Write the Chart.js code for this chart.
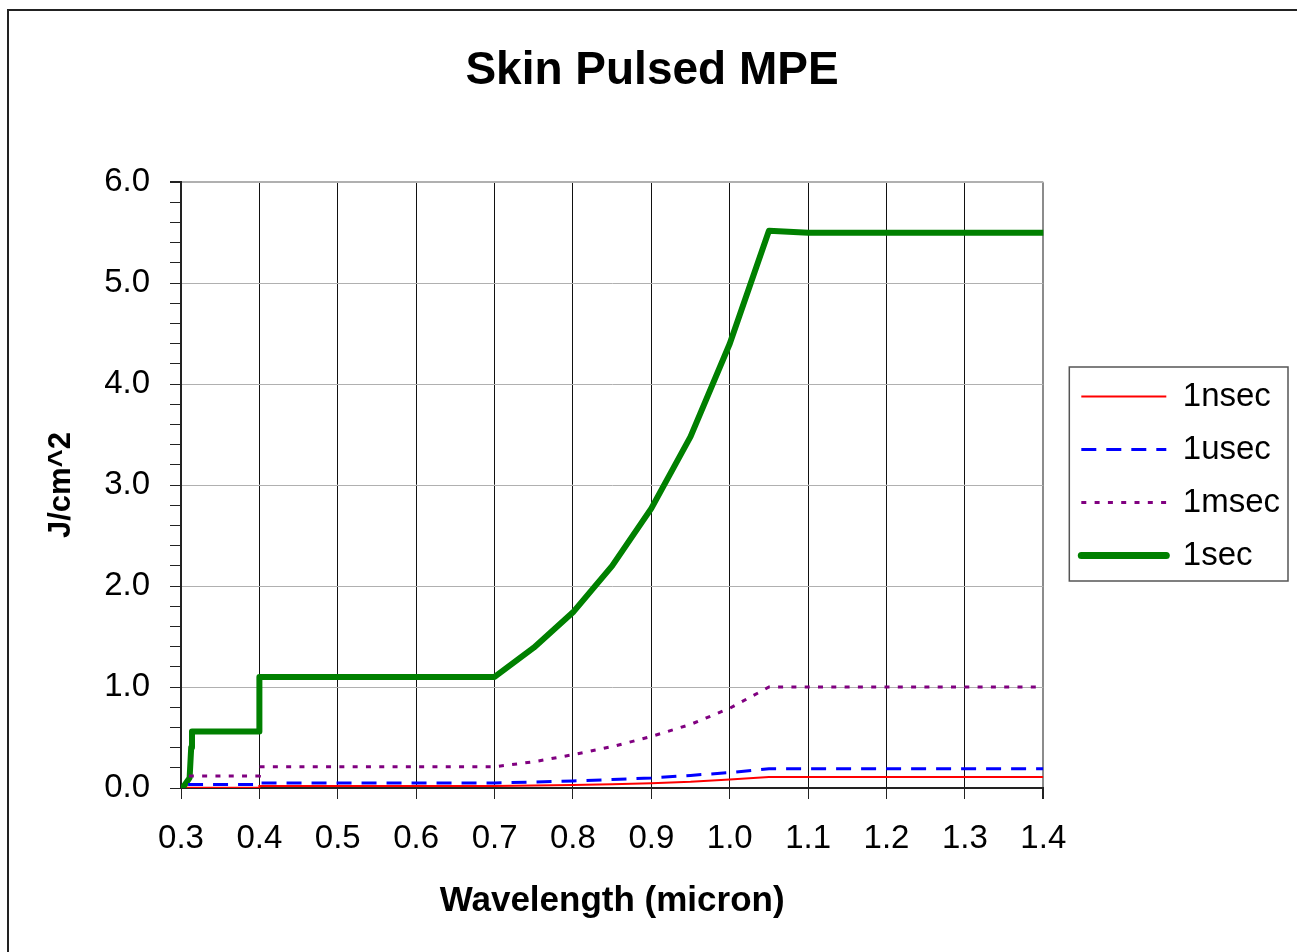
<!DOCTYPE html>
<html><head><meta charset="utf-8">
<script src="https://cdn.jsdelivr.net/npm/chart.js@4/dist/chart.umd.min.js"></script>
<style>html,body{margin:0;padding:0;background:#fff;overflow:hidden}#wrap{position:relative;width:1297px;height:952px}</style>
</head><body><div id="wrap"><canvas id="c" width="1297" height="952"></canvas></div>
<script>
// ---- data ----
const seriesNames = ['1nsec', '1usec', '1msec', '1sec'];
const xTickMin = 0.3, xTickMax = 1.4, xStep = 0.1;
const yTickMin = 0, yTickMax = 6, yMajorStep = 1, yMinorStep = 0.2;

const wl_1nsec  = [0.307, 0.4, 0.4, 0.7, 0.75, 0.8, 0.85, 0.9, 0.95, 1.0, 1.05, 1.1, 1.2, 1.3, 1.4];
const val_1nsec = [0.003, 0.003, 0.02, 0.02, 0.025, 0.03, 0.038, 0.048, 0.062, 0.085, 0.11, 0.11, 0.11, 0.11, 0.11];

const wl_1usec  = [0.309, 0.4, 0.4, 0.7, 0.75, 0.8, 0.85, 0.9, 0.95, 1.0, 1.05, 1.1, 1.2, 1.3, 1.4];
const val_1usec = [0.035, 0.035, 0.05, 0.05, 0.059, 0.07, 0.084, 0.1, 0.125, 0.153, 0.19, 0.19, 0.19, 0.19, 0.19];

const wl_1msec  = [0.31, 0.4, 0.4, 0.7, 0.75, 0.8, 0.85, 0.9, 0.95, 1.0, 1.05, 1.1, 1.2, 1.3, 1.4];
const val_1msec = [0.12, 0.12, 0.21, 0.21, 0.26, 0.33, 0.41, 0.51, 0.63, 0.79, 1.0, 1.0, 1.0, 1.0, 1.0];

const wl_1sec   = [0.302, 0.311, 0.313, 0.314, 0.4, 0.4, 0.7, 0.75, 0.8, 0.85, 0.9, 0.95, 1.0, 1.05, 1.1, 1.2, 1.3, 1.4];
const val_1sec  = [0, 0.1, 0.4, 0.56, 0.56, 1.1, 1.1, 1.39, 1.74, 2.2, 2.77, 3.48, 4.4, 5.52, 5.5, 5.5, 5.5, 5.5];

// ---- helpers ----
const zip = (xs, ys) => xs.map((x, i) => ({x: x, y: ys[i]}));
const isMajor = v => Math.abs(v / yMajorStep - Math.round(v / yMajorStep)) < 1e-6;
const FONT = '"Liberation Sans", Arial, Helvetica, sans-serif';
Chart.defaults.color = '#000';
Chart.defaults.font.family = FONT;

const PAD_R = 7;
const PAD_L = PAD_R + 7;

const framePlugin = {
  id: 'frames',
  beforeDraw(chart) {
    const ctx = chart.ctx;
    ctx.save();
    ctx.fillStyle = '#fff';
    ctx.fillRect(0, 0, chart.width, chart.height);
    ctx.strokeStyle = '#222';
    ctx.lineWidth = 2;
    ctx.strokeRect(8, 10, chart.width + 20, chart.height + 20);
    ctx.restore();
  },
  afterDraw(chart) {
    const lg = chart.legend;
    if (!lg || !lg.legendHitBoxes || !lg.legendHitBoxes.length) return;
    const hb = lg.legendHitBoxes;
    let l = Infinity, r = -Infinity, t = Infinity, b = -Infinity;
    hb.forEach(h => { l = Math.min(l, h.left); r = Math.max(r, h.left + h.width); t = Math.min(t, h.top); b = Math.max(b, h.top + h.height); });
    const ctx = chart.ctx;
    ctx.save();
    ctx.strokeStyle = '#555';
    ctx.lineWidth = 1.5;
    ctx.strokeRect(l - 12, t - 13, (r - l) + 20, (b - t) + 22);
    ctx.restore();
  }
};

new Chart(document.getElementById('c'), {
  type: 'line',
  data: {
    datasets: [
      { label: seriesNames[0], data: zip(wl_1nsec, val_1nsec), borderColor: '#FF0000', borderWidth: 2 },
      { label: seriesNames[1], data: zip(wl_1usec, val_1usec), borderColor: '#0000FF', borderWidth: 3, borderDash: [15, 10] },
      { label: seriesNames[2], data: zip(wl_1msec, val_1msec), borderColor: '#800080', borderWidth: 3, borderDash: [5, 8.3] },
      { label: seriesNames[3], data: zip(wl_1sec, val_1sec), borderColor: '#008000', borderWidth: 6, borderCapStyle: 'round', borderJoinStyle: 'round' }
    ]
  },
  options: {
    responsive: false,
    animation: false,
    devicePixelRatio: 1,
    elements: { point: { radius: 0, hoverRadius: 0 }, line: { tension: 0, fill: false } },
    layout: { padding: { left: PAD_L, right: PAD_R, top: 0, bottom: 0 } },
    plugins: {
      tooltip: { enabled: false },
      title: {
        display: true, text: 'Skin Pulsed MPE', color: '#000',
        font: { family: FONT, size: 46, weight: 'bold' },
        padding: { top: 44, bottom: 83 }
      },
      legend: {
        display: true, position: 'right', align: 'center', maxWidth: 320,
        labels: {
          usePointStyle: true, pointStyle: 'line', pointStyleWidth: 85,
          font: { family: FONT, size: 33 }, color: '#000', padding: 20,
          generateLabels: chart => chart.data.datasets.map((ds, i) => ({
            text: ds.label,
            fillStyle: ds.borderColor,
            strokeStyle: ds.borderColor,
            fontColor: '#000',
            lineWidth: ds.borderWidth === 6 ? 7 : ds.borderWidth,
            lineDash: ds.borderDash || [],
            lineCap: ds.borderCapStyle || 'butt',
            pointStyle: 'line',
            hidden: !chart.isDatasetVisible(i),
            datasetIndex: i
          }))
        }
      }
    },
    scales: {
      x: {
        type: 'linear', position: 'bottom', min: xTickMin, max: xTickMax,
        afterFit(s) { s.height = 164; },
        border: { display: true, color: '#222', width: 2 },
        grid: {
          color: c => (c.tick && Math.abs(c.tick.value - xTickMax) < 1e-6) ? '#8c8c8c' : '#111',
          lineWidth: c => (c.tick && Math.abs(c.tick.value - xTickMax) < 1e-6) ? 2 : 1,
          tickColor: '#222', tickLength: 11, drawTicks: true
        },
        ticks: {
          stepSize: xStep, autoSkip: false, padding: 20, color: '#000',
          font: { family: FONT, size: 33 },
          callback: v => Number(v).toFixed(1)
        },
        title: {
          display: true, text: 'Wavelength (micron)', color: '#000',
          font: { family: FONT, size: 35, weight: 'bold' },
          padding: { top: 0, bottom: 30 }
        }
      },
      y: {
        type: 'linear', position: 'left', min: yTickMin, max: yTickMax,
        afterFit(s) { s.width = 181 - PAD_L; },
        border: { display: true, color: '#222', width: 2 },
        grid: {
          color: c => (c.tick && isMajor(c.tick.value)) ? '#b0b0b0' : 'rgba(0,0,0,0)',
          lineWidth: c => (c.tick && Math.abs(c.tick.value - yTickMax) < 1e-6) ? 2 : 1,
          tickColor: '#222', tickLength: 11, drawTicks: true
        },
        ticks: {
          stepSize: yMinorStep, autoSkip: false, padding: 20, color: '#000',
          font: { family: FONT, size: 33 },
          callback: v => isMajor(v) ? Number(v).toFixed(1) : ''
        },
        title: {
          display: true, text: 'J/cm^2', color: '#000',
          font: { family: FONT, size: 31, weight: 'bold' },
          padding: { top: 43 - PAD_L, bottom: 0 }
        }
      },
      gap: {
        type: 'linear', position: 'right', display: true,
        afterFit(s) { s.width = 18; },
        grid: { display: false, drawTicks: false },
        border: { display: false },
        ticks: { display: false }
      }
    }
  },
  plugins: [framePlugin]
});
</script></body></html>
